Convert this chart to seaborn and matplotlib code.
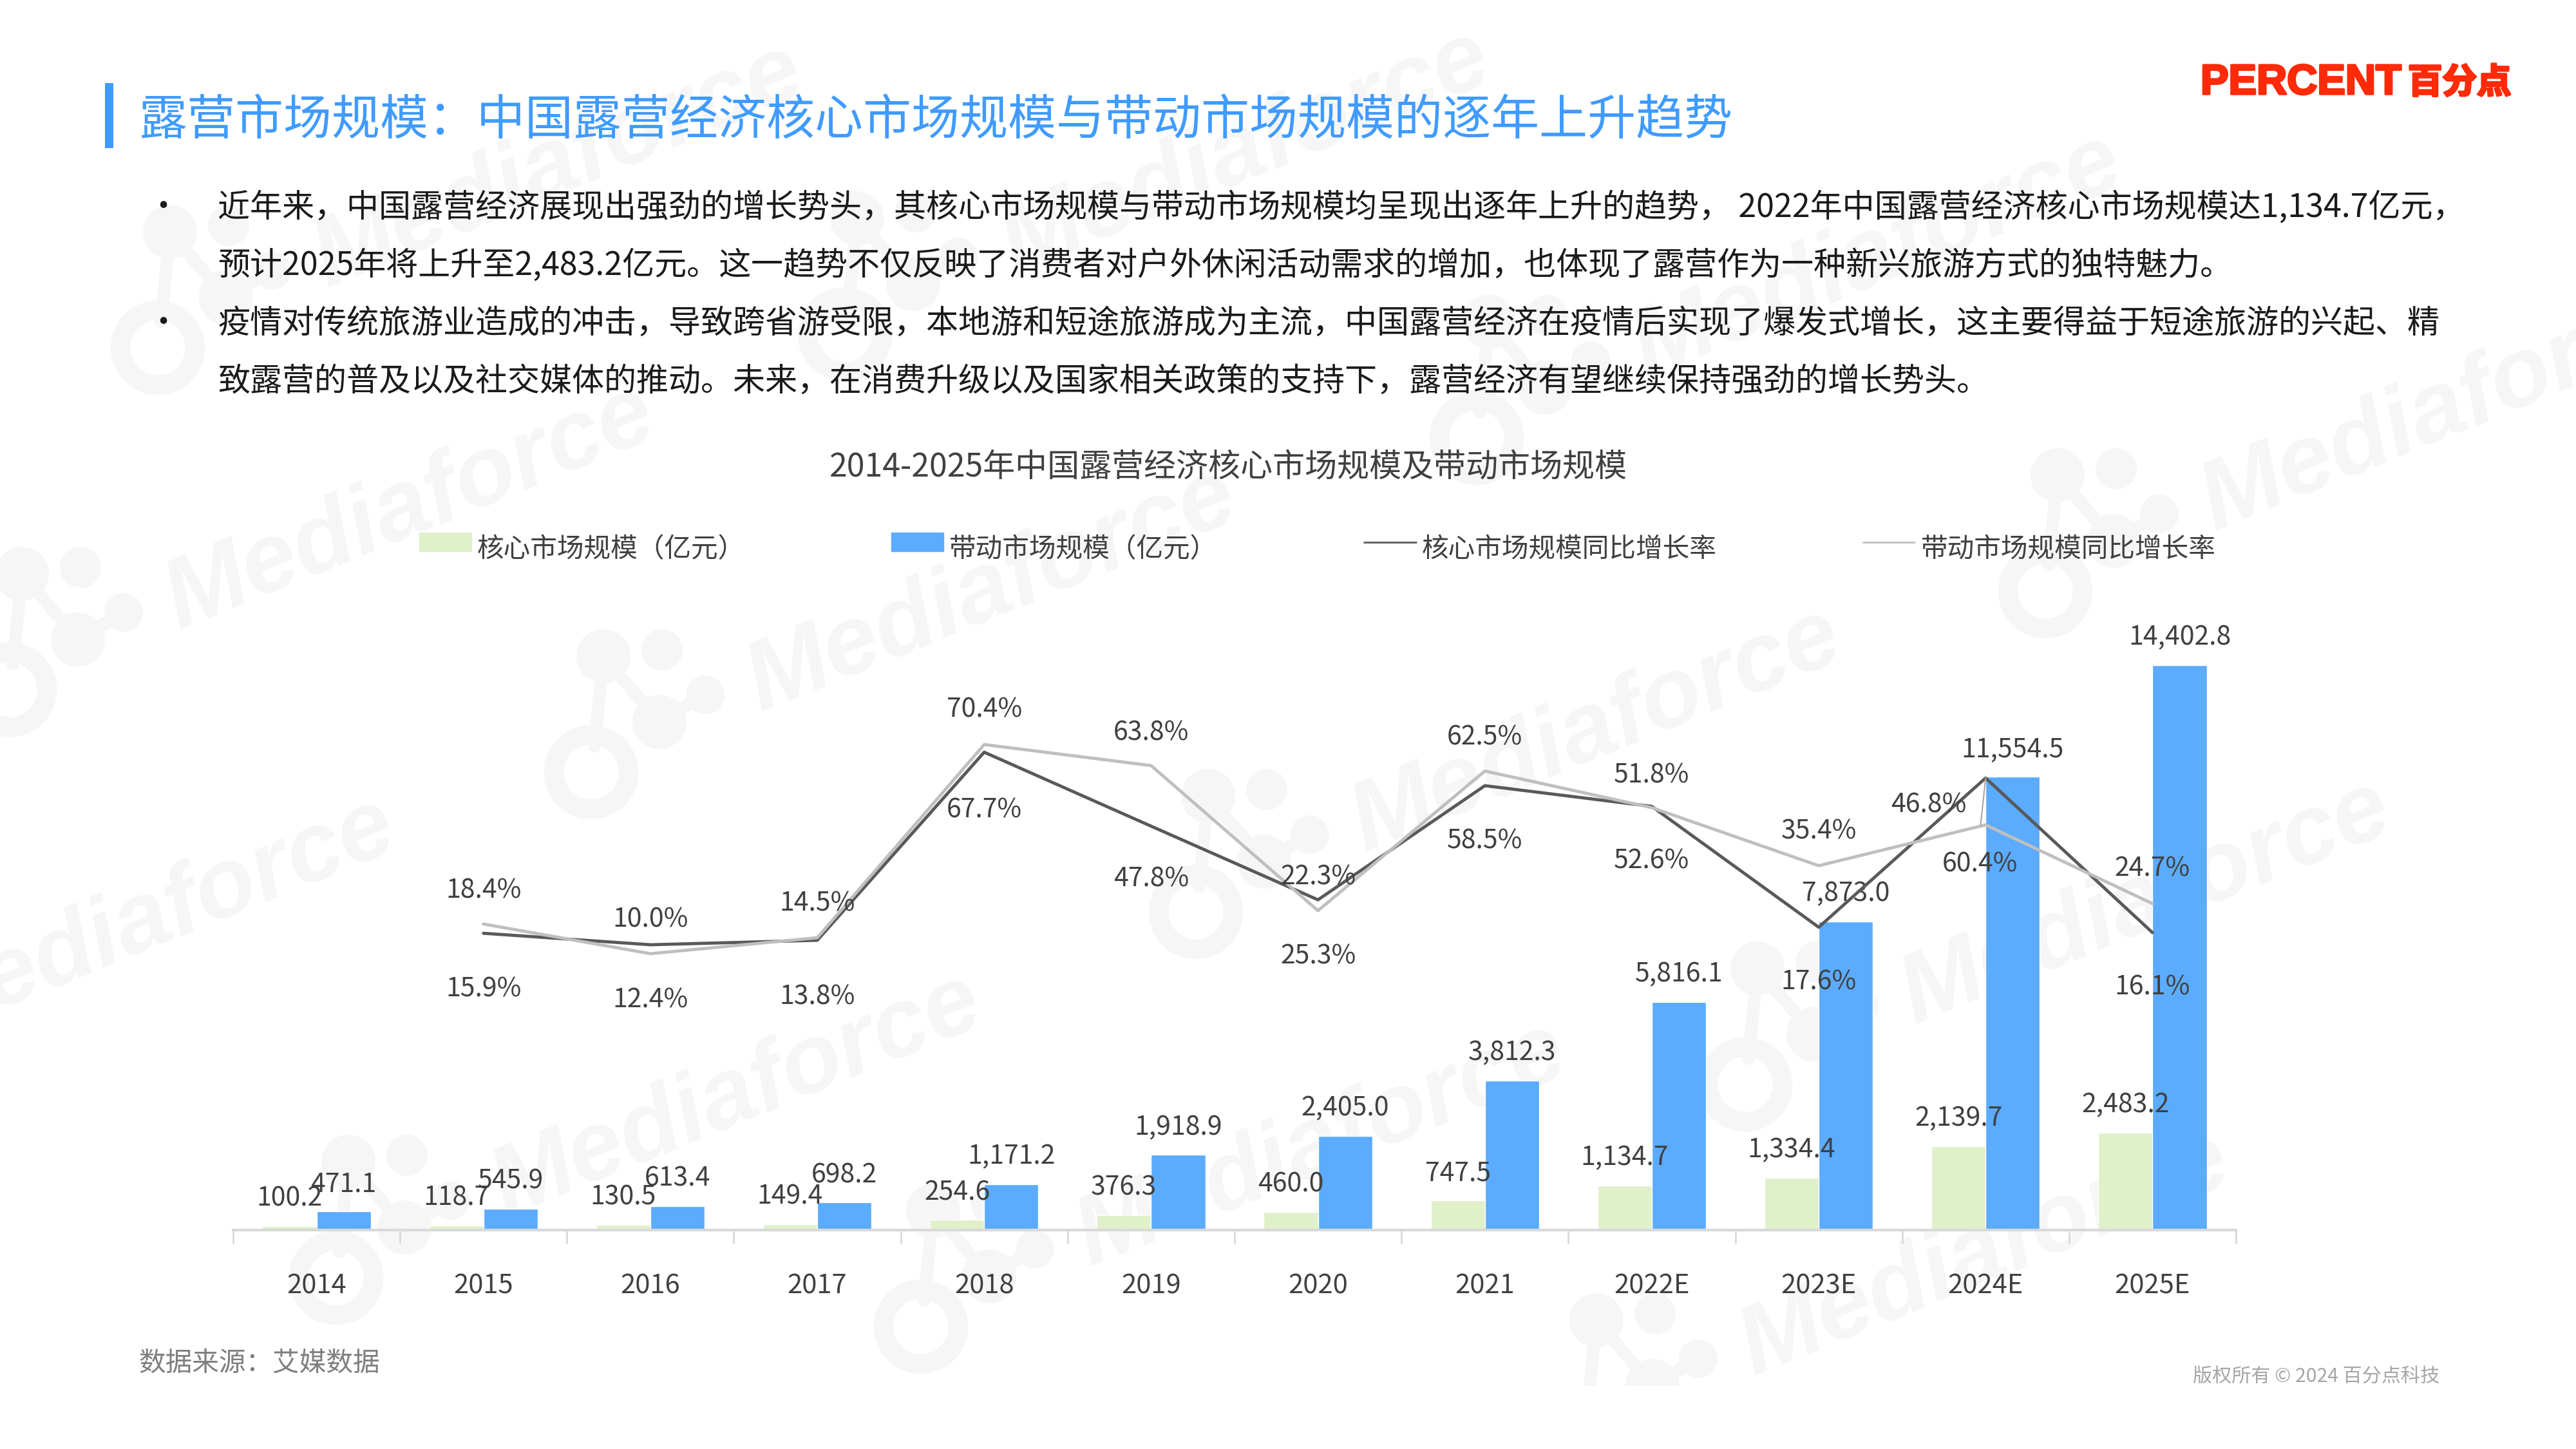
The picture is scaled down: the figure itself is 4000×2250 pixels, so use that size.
import matplotlib
matplotlib.use("Agg")
import numpy as np
import pandas as pd
import seaborn as sns
import matplotlib.pyplot as plt
import matplotlib.patheffects as pe
from matplotlib.patches import Circle, Rectangle, Patch
from matplotlib.lines import Line2D

# chart values
years = ["2014", "2015", "2016", "2017", "2018", "2019", "2020", "2021", "2022E", "2023E", "2024E", "2025E"]
core_size = [100.2, 118.7, 130.5, 149.4, 254.6, 376.3, 460.0, 747.5, 1134.7, 1334.4, 2139.7, 2483.2]
driven_size = [471.1, 545.9, 613.4, 698.2, 1171.2, 1918.9, 2405.0, 3812.3, 5816.1, 7873.0, 11554.5, 14402.8]

growth_years = years[1:]
core_growth_labels = ["18.4%", "10.0%", "14.5%", "70.4%", "47.8%", "22.3%", "62.5%", "51.8%", "17.6%", "60.4%", "16.1%"]
driven_growth_labels = ["15.9%", "12.4%", "13.8%", "67.7%", "63.8%", "25.3%", "58.5%", "52.6%", "35.4%", "46.8%", "24.7%"]
# the drawn lines do not sit exactly at their labels, so heights are read off the lines
core_growth_line = [13.6, 10.0, 11.4, 70.4, 47.2, 24.1, 59.9, 53.4, 15.5, 62.3, 13.8]
driven_growth_line = [16.5, 7.2, 12.2, 72.8, 66.2, 20.7, 64.5, 53.0, 34.8, 47.6, 22.9]

# label offsets from the line point, in pixels
core_label_dy = [66, 39, 57, 66, -82, 35, 75, 48, -85, -134, -85]
driven_label_dy = [-101, -72, -92, -102, 51, -71, -109, -83, 53, 31, 54]
core_label_dx = [0, 0, 0, 0, 0, 0, 0, 0, 0, -9, 0]
driven_label_dx = [0, 0, 0, 0, 0, 0, 0, 0, 0, -88, 0]

series_names = ["核心市场规模（亿元）", "带动市场规模（亿元）", "核心市场规模同比增长率", "带动市场规模同比增长率"]

title = "露营市场规模：中国露营经济核心市场规模与带动市场规模的逐年上升趋势"
chart_title = "2014-2025年中国露营经济核心市场规模及带动市场规模"
body_lines = [
    "近年来，中国露营经济展现出强劲的增长势头，其核心市场规模与带动市场规模均呈现出逐年上升的趋势， 2022年中国露营经济核心市场规模达1,134.7亿元，",
    "预计2025年将上升至2,483.2亿元。这一趋势不仅反映了消费者对户外休闲活动需求的增加，也体现了露营作为一种新兴旅游方式的独特魅力。",
    "疫情对传统旅游业造成的冲击，导致跨省游受限，本地游和短途旅游成为主流，中国露营经济在疫情后实现了爆发式增长，这主要得益于短途旅游的兴起、精",
    "致露营的普及以及社交媒体的推动。未来，在消费升级以及国家相关政策的支持下，露营经济有望继续保持强劲的增长势头。",
]
body_y = [323, 414, 503, 593]
bullet_y = [323, 503]

GREEN = "#E0F0C9"
BLUE = "#5BABFF"
DARK = "#595959"
GREY = "#BFBFBF"
TEXT = "#404040"
MARK = "#F6F6F6"
RED = "#FF2A08"

sns.set_theme(style="white")
plt.rcParams["font.family"] = ["Noto Sans CJK SC", "DejaVu Sans"]

W, H = 4000, 2250
fig = plt.figure(figsize=(40, 22.5), dpi=100, facecolor="white")

# full page layer in pixel coordinates, for the slide furniture
page = fig.add_axes([0, 0, 1, 1], zorder=0)
page.set_xlim(0, W)
page.set_ylim(H, 0)
page.axis("off")


def watermark(x, y):
    # logo blobs and the slanted word
    for dx, dy, r in [(19, -180, 42), (110, -190, 32), (177, -120, 30), (106, -78, 42)]:
        page.add_patch(Circle((x + dx, y + dy), r, color=MARK, lw=0))
    for dx, dy in [(19, -180), (177, -120)]:
        page.plot([x + dx, x + 106], [y + dy, y - 78], color=MARK, lw=14)
    page.plot([x + 19, x + 5], [y - 180, y - 40], color=MARK, lw=14)
    page.add_patch(Circle((x, y), 58, fill=False, ec=MARK, lw=22))
    page.text(x + 622, y - 281, "Mediaforce", color=MARK, fontsize=110, rotation=22, ha="center", va="center",
              family="Liberation Sans", weight="bold", style="italic")


for wx, wy in [(245, 540), (1312, 519), (2293, 680), (15, 1071), (918, 1199), (1857, 1416), (3176, 918),
               (-388, 1711), (522, 1984), (2710, 1684), (1430, 2060), (2460, 2230)]:
    watermark(wx, wy)
page.add_patch(Rectangle((0, 2152), W, 98, color="white", lw=0, zorder=3))
page.set_xlim(0, W)
page.set_ylim(H, 0)

page.add_patch(Rectangle((163, 129), 13, 101, color="#3F9BFF", lw=0))
page.text(216, 187, title, color="#3F9BFF", fontsize=54, va="center", weight="light")
thicken = [pe.withStroke(linewidth=2.5, foreground=RED)]
page.text(3417, 129, "PERCENT", color=RED, fontsize=47, va="center", family="Liberation Sans", weight="bold",
          path_effects=thicken)
page.text(3739, 129, "百分点", color=RED, fontsize=38.5, va="center", weight="bold", path_effects=thicken)

for line, y in zip(body_lines, body_y):
    page.text(338, y, line, color="#1A1A1A", fontsize=36.04, va="center")
for y in bullet_y:
    page.text(253, y, "•", color="#1A1A1A", fontsize=36, va="center", ha="center")

page.text(1908, 725, chart_title, color=TEXT, fontsize=36, va="center", ha="center")
page.text(215, 2117, "数据来源：艾媒数据", color="#7F7F7F", fontsize=30, va="center", zorder=4)
page.text(3405, 2138, "版权所有 © 2024 百分点科技", color="#A6A6A6", fontsize=21.7, va="center", zorder=4)

# bars
left, right, bottom, top = 362, 3472, 1910, 960
ax = fig.add_axes([left / W, 1 - bottom / H, (right - left) / W, (bottom - top) / H], zorder=1)
ax.patch.set_alpha(0)

sizes = pd.DataFrame({
    "year": years * 2,
    "value": core_size + driven_size,
    "series": [series_names[0]] * len(years) + [series_names[1]] * len(years),
})
sns.barplot(data=sizes, x="year", y="value", hue="series", palette=[GREEN, BLUE], width=0.65, gap=0,
            saturation=1, legend=False, ax=ax)
ax.set_xlim(-0.5, len(years) - 0.5)
ax.set_ylim(0, 15600)
ax.set_xlabel("")
ax.set_ylabel("")
ax.set_yticks([])
sns.despine(ax=ax, left=True)
ax.spines["bottom"].set_color("#D9D9D9")
ax.spines["bottom"].set_linewidth(3)
ax.set_xticks(np.arange(len(years) + 1) - 0.5, minor=True)
ax.tick_params(axis="x", which="minor", bottom=True, length=15, width=2, color="#D9D9D9")
ax.tick_params(axis="x", which="major", bottom=False, pad=42, labelsize=30, labelcolor=TEXT)

for bars in ax.containers:
    ax.bar_label(bars, fmt="{:,.1f}", padding=16, fontsize=29.5, color=TEXT)

# growth lines share the category positions on a second scale
ax2 = ax.twinx()
ax2.set_zorder(2)
ax2.patch.set_alpha(0)
growth_pos = [years.index(y) for y in growth_years]
growth = pd.DataFrame({"pos": growth_pos, "core": core_growth_line, "driven": driven_growth_line})
sns.lineplot(data=growth, x="pos", y="core", color=DARK, lw=3.5, errorbar=None, ax=ax2)
sns.lineplot(data=growth, x="pos", y="driven", color=GREY, lw=3.5, errorbar=None, ax=ax2)
ax2.set_ylim(-79.49, 112.42)
ax2.set_xlim(-0.5, len(years) - 0.5)
ax2.set_ylabel("")
ax2.set_yticks([])
ax2.set_xlabel("")
sns.despine(ax=ax2, left=True, right=True, bottom=True, top=True)

for x, y, label, dx, dy in zip(growth_pos, core_growth_line, core_growth_labels, core_label_dx, core_label_dy):
    ax2.annotate(label, (x, y), xytext=(dx, dy), textcoords="offset pixels", ha="center", va="center",
                 fontsize=29.5, color=TEXT)
for x, y, label, dx, dy in zip(growth_pos, driven_growth_line, driven_growth_labels, driven_label_dx, driven_label_dy):
    ax2.annotate(label, (x, y), xytext=(dx, dy), textcoords="offset pixels", ha="center", va="center",
                 fontsize=29.5, color=TEXT)

# leader line on the 2024E label
lead = years.index("2024E") - 1
ax2.annotate("", (growth_pos[lead], core_growth_line[lead]),
             xytext=(growth_pos[lead] - 0.03, driven_growth_line[lead]), textcoords="data",
             arrowprops=dict(arrowstyle="-", color="#A6A6A6", lw=1.5, shrinkA=0, shrinkB=0))

handles = [
    Patch(color=GREEN, label=series_names[0]),
    Patch(color=BLUE, label=series_names[1]),
    Line2D([], [], color=DARK, lw=2, label=series_names[2]),
    Line2D([], [], color=GREY, lw=2, label=series_names[3]),
]
legend = fig.legend(handles=handles, ncol=4, loc="center left", bbox_to_anchor=(651 / W, 1 - 853 / H), frameon=False,
                    fontsize=30, labelcolor=TEXT, handlelength=1.94, handleheight=0.67, handletextpad=0.22,
                    columnspacing=5.45, borderpad=0, borderaxespad=0)
# the keys sit slightly above the text in the reference
for key in legend.legend_handles:
    if isinstance(key, Line2D):
        key.set_ydata(np.asarray(key.get_ydata()) + 6)
    else:
        key.set_y(key.get_y() + 6)

fig.savefig("out.png", dpi=100)
